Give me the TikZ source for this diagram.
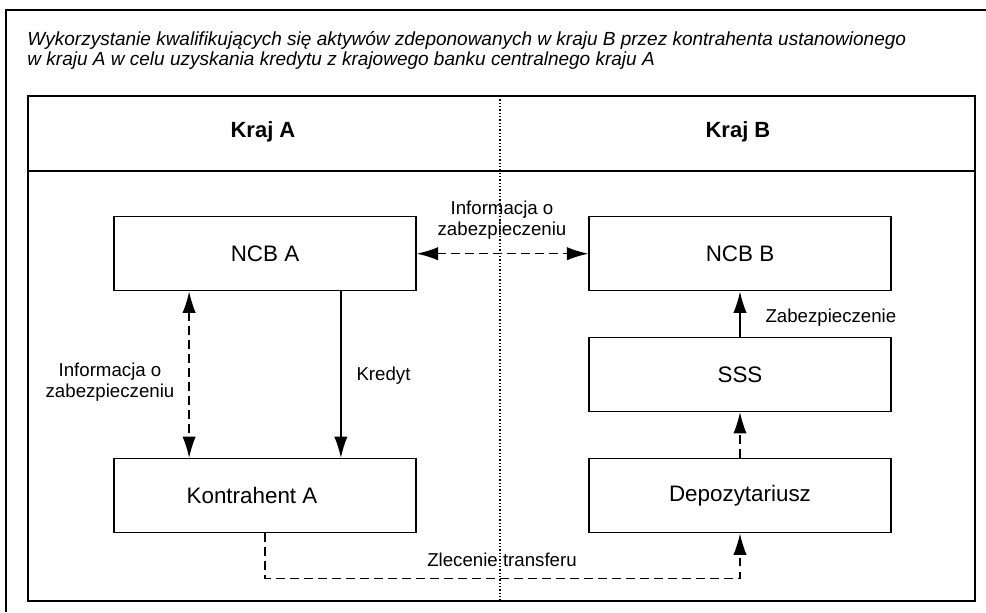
\documentclass[tikz,border=0pt]{standalone}
\usepackage{fontspec}
\setmainfont{Liberation Sans}
\usetikzlibrary{arrows.meta,calc}

\tikzset{every picture/.style={line width=0.75pt}}
\tikzset{
  blok/.style={draw, line width=1.1pt, minimum width=226.5pt, minimum height=55.5pt, inner sep=0pt, font=\fontsize{16.8}{19}\selectfont},
  opis/.style={align=center, inner sep=0pt, font=\fontsize{14}{15.75}\selectfont},
  kraj/.style={inner sep=0pt, font=\fontsize{16.5}{19}\selectfont\bfseries},
  grot/.tip={Latex[length=16pt,width=10pt]},
  strz/.style={line width=1.1pt, -grot},
  strzdwa/.style={line width=1.1pt, grot-grot},
  kreski/.style={dash pattern=on 6.5pt off 4pt},
}

\begin{document}
\begin{tikzpicture}[x=0.75pt,y=0.75pt,yscale=-1,xscale=1]
\useasboundingbox (0,0) rectangle (986,612);

%Outer frame
\draw [line width=1.5pt] (986,10) -- (6,10) -- (6,612) ;
%Inner frame and header row
\draw [line width=1.5pt] (28,96) rectangle (975,601) ;
\draw [line width=1.5pt] (28,171) -- (975,171) ;
%Dotted divider between countries
\draw [line width=1pt, dash pattern=on 1pt off 1.5pt] (500,96) -- (500,601) ;

% Title
\node [anchor=north west, align=left, inner sep=0pt, font=\fontsize{14.25}{15}\selectfont\itshape] (tytul) at (27,31) {Wykorzystanie kwalifikujących się aktywów zdeponowanych w kraju B przez kontrahenta ustanowionego\\w kraju A w celu uzyskania kredytu z krajowego banku centralnego kraju A};

% Header cells
\node [kraj, anchor=base] (krajA) at (263,137) {Kraj A};
\node [kraj, anchor=base] (krajB) at (738,137) {Kraj B};

%Boxes
\node [blok] (ncbA) at (265,253.7) {NCB A};
\node [blok] (ncbB) at (740,253.7) {NCB B};
\node [blok] (sss) at (740,374.3) {SSS};
\node [blok] (depo) at (740,495.7) {Depozytariusz};
\node [blok] (kontrA) at (265,495.7) {Kontrahent A\rule{19.5pt}{0pt}};

%Connectors
\draw [strzdwa, kreski] (ncbA) -- (ncbB) ;
\draw [strzdwa, kreski] ($(ncbA.south west)!0.25!(ncbA.south east)$) -- ($(kontrA.north west)!0.25!(kontrA.north east)$) ;
\draw [strz] ($(ncbA.south west)!0.75!(ncbA.south east)$) -- ($(kontrA.north west)!0.75!(kontrA.north east)$) ;
\draw [strz] (sss) -- (ncbB) ;
\draw [strz, kreski] (depo) -- (sss) ;
\draw [strz, kreski] (kontrA.south) -- ++(0,45) -| (depo.south) ;

% Labels
\node [opis] (infoAB) at (502,220) {Informacja o\\zabezpieczeniu};
\node [opis] (infoA) at (110,382) {Informacja o\\zabezpieczeniu};
\node [opis, anchor=base west] (kredyt) at (356,380) {Kredyt};
\node [opis, anchor=base west] (zabezp) at (765,322) {Zabezpieczenie};
\node [opis, anchor=base] (zlecenie) at (502,566.5) {Zlecenie transferu};

\end{tikzpicture}
\end{document}
